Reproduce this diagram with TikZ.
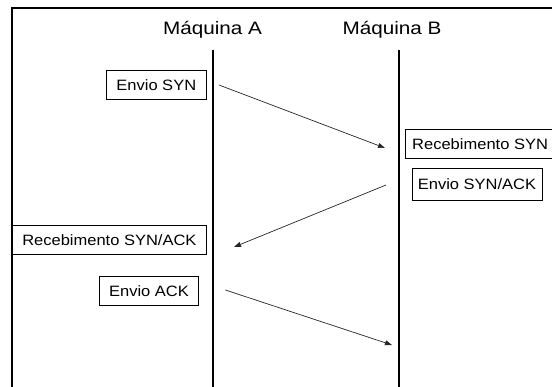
\documentclass[tikz,border=0pt]{standalone}
\usepackage{fontspec}
\setmainfont{Liberation Sans}
\usetikzlibrary{arrows.meta}
% horizontally widened text, as set in the original drawing tool
\newcommand{\widetext}[2]{\scalebox{#1}[1]{#2}}
\begin{document}
\begin{tikzpicture}[x=1pt,y=-1pt,
  heading/.style={font=\fontsize{18}{21}\selectfont, inner sep=0pt, anchor=base},
  msgbox/.style={draw=black, line width=0.8pt, fill=white,
    font=\fontsize{15}{18}\selectfont, inner sep=0pt},
  lifeline/.style={line width=2pt, draw=black},
  frameline/.style={line width=2pt, draw=black},
  msg/.style={line width=0.7pt, draw=black!85,
    -{Triangle[length=7pt,width=5pt]}},
]
\useasboundingbox (0,0) rectangle (552,387);
\clip (0,0) rectangle (552,387);
\fill[white] (0,0) rectangle (552,387);

% outer frame (only its left and top edges fall inside the page)
\coordinate (frameBL) at (11.7,400);
\coordinate (frameTL) at (11.7,8.5);
\coordinate (frameTR) at (560,8.5);
\draw[frameline] (frameBL) -- (frameTL) -- (frameTR);

% headings
\node[heading] (hostA) at (212.5,35) {\widetext{1.15}{Máquina A}};
\node[heading] (hostB) at (392,35) {\widetext{1.15}{Máquina B}};

% lifelines
\coordinate (aTop) at (213,50.5);
\coordinate (aBot) at (213,390);
\coordinate (bTop) at (399.3,50.5);
\coordinate (bBot) at (399.3,390);
\draw[lifeline] (aTop) -- (aBot);
\draw[lifeline] (bTop) -- (bBot);

% event boxes
\node[msgbox, minimum width=99.3pt, minimum height=29pt] (sendSyn)
  at (156.3,85) {\widetext{1.1}{Envio SYN}};
\node[msgbox, minimum width=149pt, minimum height=29pt] (recvSyn)
  at (480.1,144) {\widetext{1.1}{Recebimento SYN}};
\node[msgbox, minimum width=130pt, minimum height=32pt] (sendSynAck)
  at (477,184) {\widetext{1.1}{Envio SYN/ACK}};
\node[msgbox, minimum width=193.3pt, minimum height=29pt] (recvSynAck)
  at (109.4,240) {\widetext{1.1}{Recebimento SYN/ACK}};
\node[msgbox, minimum width=99.4pt, minimum height=29pt] (sendAck)
  at (149,291) {\widetext{1.1}{Envio ACK}};

% message arrows
\coordinate (synFrom) at (219,85);
\coordinate (synTo) at (385,148);
\coordinate (synAckFrom) at (386,185);
\coordinate (synAckTo) at (234,247);
\coordinate (ackFrom) at (225.4,290);
\coordinate (ackTo) at (392,345);
\draw[msg] (synFrom) -- (synTo);
\draw[msg] (synAckFrom) -- (synAckTo);
\draw[msg] (ackFrom) -- (ackTo);
\end{tikzpicture}
\end{document}
